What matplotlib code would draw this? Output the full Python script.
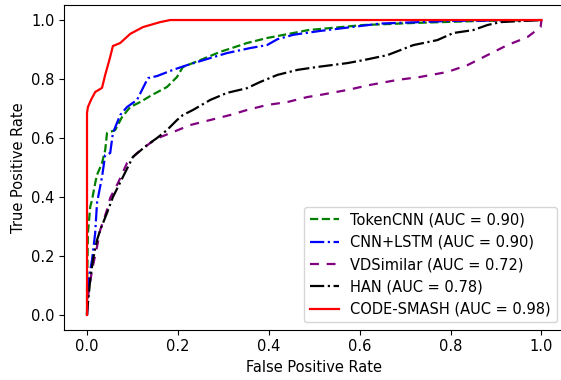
import numpy as np
import matplotlib
matplotlib.use('Agg')
import matplotlib.pyplot as plt

# ROC points
tok_fpr = [0, 0, 0.002, 0.007, 0.011, 0.018, 0.022, 0.033, 0.040, 0.044, 0.062, 0.077, 0.095, 0.117,
           0.143, 0.176, 0.198, 0.211, 0.249, 0.293, 0.352, 0.396, 0.454, 0.487, 0.608, 0.718, 0.866, 1.0]
tok_tpr = [0, 0.085, 0.278, 0.366, 0.39, 0.447, 0.475, 0.515, 0.559, 0.617, 0.627, 0.671, 0.705, 0.722,
           0.746, 0.773, 0.807, 0.841, 0.864, 0.892, 0.922, 0.939, 0.956, 0.966, 0.983, 0.990, 0.997, 1.0]

lstm_fpr = [0, 0.002, 0.011, 0.018, 0.022, 0.033, 0.040, 0.051, 0.057, 0.073, 0.088, 0.110, 0.121, 0.134,
            0.154, 0.189, 0.220, 0.256, 0.308, 0.359, 0.396, 0.419, 0.454, 0.513, 0.645, 0.80, 1.0]
lstm_tpr = [0, 0.108, 0.186, 0.278, 0.38, 0.468, 0.542, 0.549, 0.617, 0.678, 0.705, 0.729, 0.763, 0.803,
            0.810, 0.831, 0.847, 0.864, 0.888, 0.905, 0.915, 0.935, 0.950, 0.963, 0.988, 0.997, 1.0]

vds_fpr = [0, 0.002, 0.011, 0.022, 0.029, 0.044, 0.051, 0.068, 0.088, 0.110, 0.139, 0.161, 0.189, 0.227,
           0.271, 0.315, 0.352, 0.396, 0.441, 0.485, 0.513, 0.573, 0.623, 0.683, 0.733, 0.793, 0.837,
           0.881, 0.925, 0.969, 0.998, 1.0]
vds_tpr = [0, 0.061, 0.153, 0.231, 0.288, 0.356, 0.397, 0.447, 0.515, 0.549, 0.583, 0.603, 0.620, 0.644,
           0.661, 0.678, 0.695, 0.712, 0.722, 0.739, 0.746, 0.763, 0.780, 0.797, 0.807, 0.824, 0.847,
           0.881, 0.915, 0.942, 0.976, 1.0]

han_fpr = [0, 0, 0.007, 0.013, 0.022, 0.029, 0.044, 0.057, 0.079, 0.101, 0.132, 0.154, 0.176, 0.198,
           0.211, 0.233, 0.271, 0.308, 0.352, 0.381, 0.419, 0.463, 0.507, 0.573, 0.608, 0.661, 0.718,
           0.771, 0.806, 0.850, 0.881, 0.910, 1.0]
han_tpr = [0, 0.007, 0.119, 0.186, 0.254, 0.288, 0.346, 0.4, 0.468, 0.536, 0.576, 0.6, 0.627, 0.661,
           0.678, 0.695, 0.729, 0.753, 0.769, 0.790, 0.814, 0.831, 0.841, 0.854, 0.864, 0.881, 0.915,
           0.932, 0.956, 0.966, 0.983, 0.993, 1.0]

smash_fpr = [0, 0, 0.002, 0.009, 0.018, 0.033, 0.040, 0.046, 0.051, 0.057, 0.073, 0.095, 0.123, 0.161,
             0.183, 1.0]
smash_tpr = [0, 0.685, 0.705, 0.73, 0.756, 0.77, 0.814, 0.847, 0.875, 0.912, 0.922, 0.953, 0.976, 0.993,
             1.0, 1.0]

names = ['TokenCNN', 'CNN+LSTM', 'VDSimilar', 'HAN', 'CODE-SMASH']
aucs = [0.90, 0.90, 0.72, 0.78, 0.98]

plt.rcParams['font.size'] = 10.5

fig = plt.figure(figsize=(5.61, 3.80), dpi=100)
# right spine falls just outside the image, as in the reference
ax = fig.add_axes([0.1146, 0.1322, 0.8911, 0.8539])

lw = 1.6
ax.plot(tok_fpr, tok_tpr, color='green', linestyle='--', lw=lw,
        label=f'{names[0]} (AUC = {aucs[0]:.2f})')
ax.plot(lstm_fpr, lstm_tpr, color='blue', linestyle='-.', lw=lw,
        label=f'{names[1]} (AUC = {aucs[1]:.2f})')
ax.plot(vds_fpr, vds_tpr, color='purple', linestyle=(0, (4, 3.5)), lw=lw,
        label=f'{names[2]} (AUC = {aucs[2]:.2f})')
ax.plot(han_fpr, han_tpr, color='black', linestyle='-.', lw=lw,
        label=f'{names[3]} (AUC = {aucs[3]:.2f})')
ax.plot(smash_fpr, smash_tpr, color='red', linestyle='-', lw=lw,
        label=f'{names[4]} (AUC = {aucs[4]:.2f})')

ax.set_xlim(-0.05, 1.05)
ax.set_ylim(-0.05, 1.05)
ax.set_xticks(np.arange(0, 1.01, 0.2))
ax.set_yticks(np.arange(0, 1.01, 0.2))
ax.set_xlabel('False Positive Rate')
ax.set_ylabel('True Positive Rate')
ax.legend(loc='lower right')

fig.savefig('out.png', dpi=100)
